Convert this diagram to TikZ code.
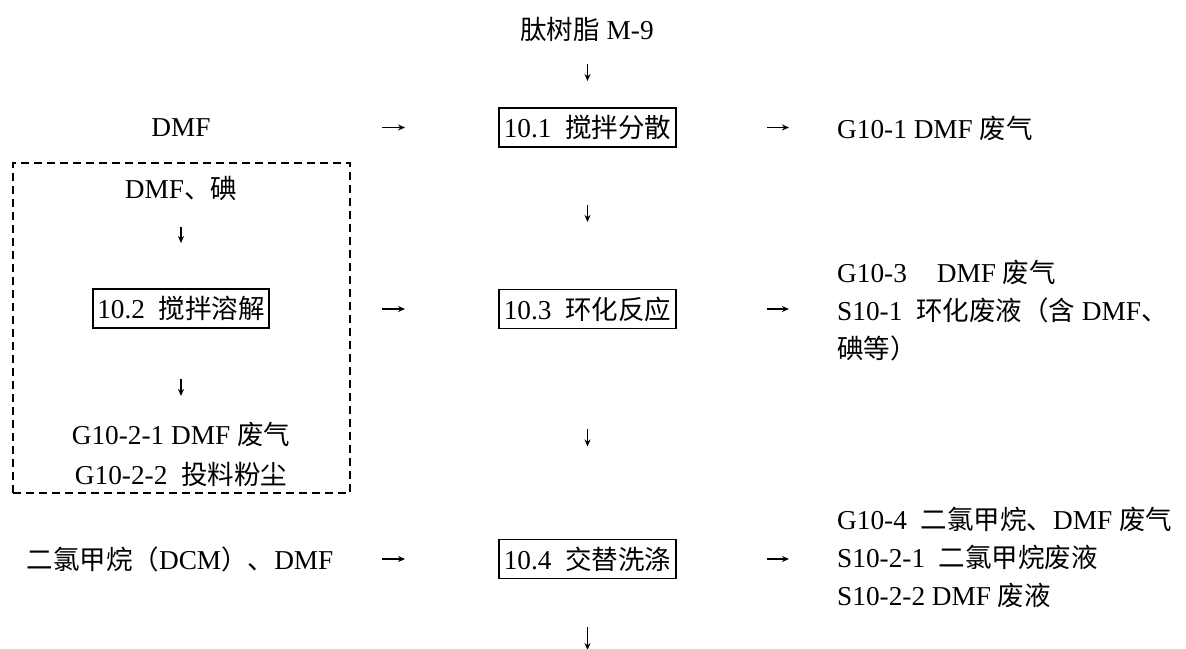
\documentclass[tikz,border=0pt]{standalone}
\usepackage{fontspec}
\setmainfont{Liberation Serif}[Scale=1.03]
\newfontfamily\cjk{Noto Sans CJK SC}
\usetikzlibrary{arrows.meta}
\newcommand{\zh}[1]{{\cjk #1}}
\begin{document}
\begin{tikzpicture}[x=1pt,y=-1pt,
  every node/.style={font=\fontsize{26.5}{30}\selectfont, inner sep=0pt},
  procbox/.style={draw, line width=1.9pt, minimum width=177pt, minimum height=39pt},
  grpbox/.style={draw, line width=1.4pt, dash pattern=on 8pt off 5pt},
  arr/.style={line width=1.2pt, -{Stealth[length=7pt,width=6pt]}}]
\useasboundingbox (0,0) rectangle (1186,648);

% main column
\node (resin) at (587,29) {\zh{肽树脂} M-9};
\node[procbox] (b1) at (587.5,127.5) {10.1\hspace{0.5em}\zh{搅拌分散}};
\node[procbox] (b3) at (587.5,309) {10.3\hspace{0.5em}\zh{环化反应}};
\node[procbox] (b4) at (587.5,559) {10.4\hspace{0.5em}\zh{交替洗涤}};
\coordinate (out) at (587.5,650);

% left column
\node (dmf) at (181,128) {DMF};
\node[grpbox, minimum width=337pt, minimum height=330pt] (grp) at (181.5,328) {};
\node (dmfi) at (181,188) {DMF\zh{、碘}};
\node[procbox, minimum width=176pt] (b2) at (181,308.5) {10.2\hspace{0.5em}\zh{搅拌溶解}};
\node (g21) at (181,434) {G10-2-1 DMF \zh{废气}};
\node (g22) at (181,474) {G10-2-2\hspace{0.5em}\zh{投料粉尘}};
\node (dcm) at (180,559) {\zh{二氯甲烷（}DCM\zh{）、}DMF};

% right column
\node[anchor=west] (g1) at (837,128) {G10-1 DMF \zh{废气}};
\node[anchor=west] (g3) at (837,272) {G10-3\hspace{1.1em}DMF \zh{废气}};
\node[anchor=west] (s1) at (837,310) {S10-1\hspace{0.5em}\zh{环化废液（含} DMF\zh{、}};
\node[anchor=west] (s1b) at (837,348) {\zh{碘等）}};
\node[anchor=west] (g4) at (837,519) {G10-4\hspace{0.5em}\zh{二氯甲烷、}DMF \zh{废气}};
\node[anchor=west] (s21) at (837,557) {S10-2-1\hspace{0.5em}\zh{二氯甲烷废液}};
\node[anchor=west] (s22) at (837,595) {S10-2-2 DMF \zh{废液}};

% vertical arrows, main column
\draw[arr] ([yshift=43pt]b1.north) -- ([yshift=26pt]b1.north);
\draw[arr] ([yshift=-57pt]b1.south) -- ([yshift=-74pt]b1.south);
\draw[arr] ([yshift=-100pt]b3.south) -- ([yshift=-117pt]b3.south);
\draw[arr] ([yshift=23pt]out) -- (out);

% vertical arrows, left column
\draw[arr] ([yshift=61pt]b2.north) -- ([yshift=45pt]b2.north);
\draw[arr] ([yshift=-50pt]b2.south) -- ([yshift=-67pt]b2.south);

% horizontal arrows in
\draw[arr] ([xshift=-116pt]b1.west) -- ([xshift=-93pt]b1.west);
\draw[arr] ([xshift=-116pt]b3.west) -- ([xshift=-93pt]b3.west);
\draw[arr] ([xshift=-116pt]b4.west) -- ([xshift=-93pt]b4.west);

% horizontal arrows out
\draw[arr] ([xshift=90pt]b1.east) -- ([xshift=112pt]b1.east);
\draw[arr] ([xshift=90pt]b3.east) -- ([xshift=112pt]b3.east);
\draw[arr] ([xshift=90pt]b4.east) -- ([xshift=112pt]b4.east);
\end{tikzpicture}
\end{document}
